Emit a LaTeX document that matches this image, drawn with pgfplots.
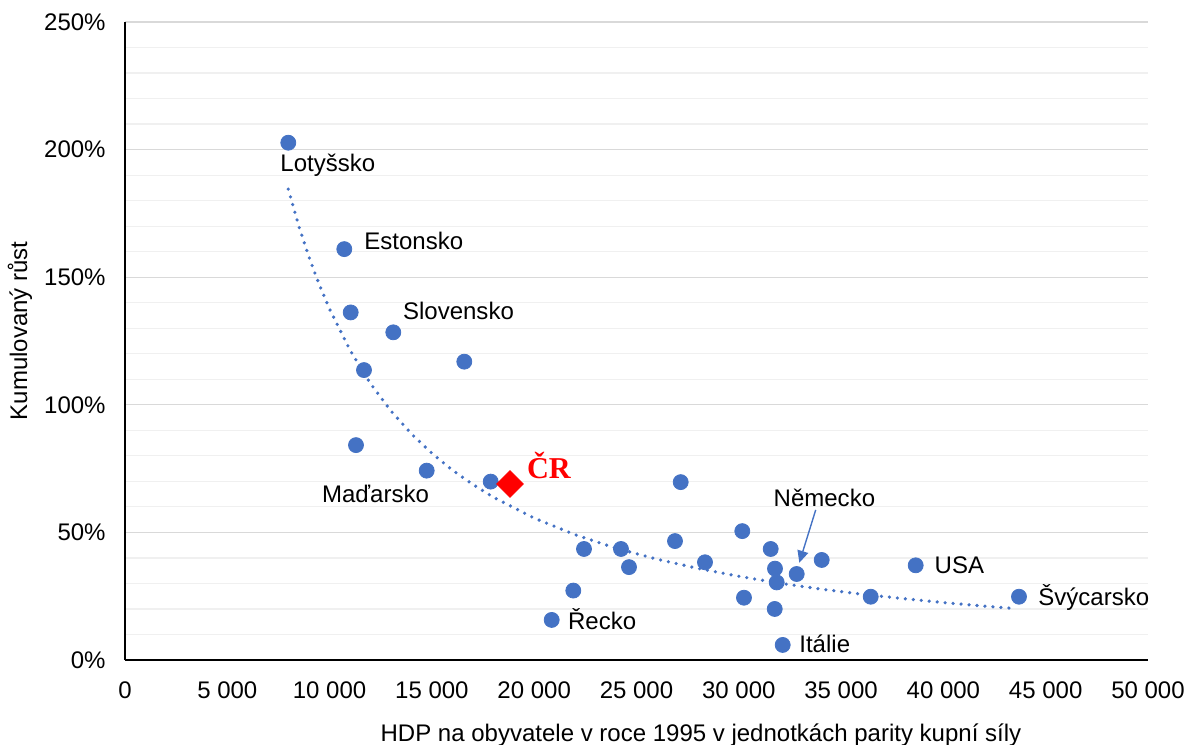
\documentclass[border=0pt]{standalone}
\usepackage{fontspec}
\setmainfont{Liberation Sans}
\newfontfamily\serifbf{Liberation Serif}
\usepackage{pgfplots}
\pgfplotsset{compat=1.18}
\usetikzlibrary{arrows.meta}
\definecolor{ptblue}{HTML}{4472C4}
\definecolor{majgrid}{HTML}{D9D9D9}
\definecolor{mingrid}{HTML}{F0F0F0}
\begin{document}
\fontsize{12.05}{14}\selectfont
\begin{tikzpicture}[font=\fontsize{12.05}{14}\selectfont]
\begin{axis}[
 at={(0,0)}, anchor=south west,
 scale only axis, width=511.5bp, height=319bp,
 xmin=0, xmax=50000, ymin=0, ymax=250,
 axis x line*=bottom, axis y line*=left,
 axis line style={black, line width=0.8bp, -},
 xtick={0,5000,...,50000},
 ytick={0,50,...,250},
 minor ytick={10,20,30,40,60,70,80,90,110,120,130,140,160,170,180,190,210,220,230,240},
 ymajorgrids, yminorgrids,
 major grid style={majgrid, line width=0.6bp},
 minor grid style={mingrid, line width=0.6bp},
 major tick length=0pt, minor tick length=0pt,
 /pgf/number format/assume math mode=true,
 /pgf/number format/1000 sep={\ },
 scaled x ticks=false,
 yticklabel={\pgfmathprintnumber{\tick}\%},
 xticklabel style={yshift=-6.5bp},
 yticklabel style={xshift=-5.5bp},
 clip=false,
]
\addplot[only marks, mark=*, mark size=3.75bp, mark options={draw=ptblue, fill=ptblue}] coordinates {
(7981,202.7) (10718,161.0) (11031,136.2) (13113,128.4) (16584,116.9)
(11681,113.6) (11290,84.2) (14746,74.2) (17874,69.9) (27160,69.7)
(30171,50.5) (26882,46.6) (22434,43.5) (24242,43.5) (31559,43.5)
(24634,36.4) (28348,38.3) (31769,35.8) (31853,30.4) (32830,33.7)
(34052,39.2) (38646,37.1) (36447,24.8) (43695,24.8) (30254,24.4)
(31755,20.0) (32146,5.9) (21911,27.2) (20855,15.7)
};
\addplot[ptblue, line width=1.8bp, line cap=round, dash pattern=on 0bp off 4bp, mark=none] coordinates {
(7981,184.5) (8500,169.9) (9000,157.7) (9500,147.0) (10000,137.5) (11000,121.4)
(12000,108.3) (13000,97.6) (14000,88.6) (15000,81.0) (16000,74.4)
(17000,68.8) (18000,63.8) (20000,55.6) (22000,49.1) (24000,43.8)
(26000,39.5) (28000,35.9) (30000,32.8) (32000,30.1) (34000,27.8)
(36000,25.8) (38000,24.1) (40000,22.5) (42000,21.1) (43300,20.3)
};
\addplot[only marks, mark=square*, mark size=4.7bp, mark options={rotate=45, draw=red, fill=red}] coordinates {(18817,69.0)};
\node[anchor=base west, inner sep=0pt] at (axis cs:7576,191.6) {Lotyšsko};
\node[anchor=base west, inner sep=0pt] at (axis cs:11681,160.7) {Estonsko};
\node[anchor=base west, inner sep=0pt] at (axis cs:13573,133.6) {Slovensko};
\node[anchor=base west, inner sep=0pt] at (axis cs:9614,61.9) {Maďarsko};
\node[anchor=base west, inner sep=0pt, text=red, font=\serifbf\bfseries\fontsize{15.2}{18}\selectfont] at (axis cs:19633,71.3) {ČR};
\node[anchor=base west, inner sep=0pt] at (axis cs:21637,11.8) {Řecko};
\node[anchor=base west, inner sep=0pt] at (axis cs:31687,60.3) {Německo};
\node[anchor=base west, inner sep=0pt] at (axis cs:39555,33.7) {USA};
\node[anchor=base west, inner sep=0pt] at (axis cs:32942,3.1) {Itálie};
\node[anchor=base west, inner sep=0pt] at (axis cs:44624,21.2) {Švýcarsko};
\draw[ptblue, line width=0.7bp, -{Triangle[length=6bp, width=5.5bp]}] (axis cs:33759,58.8) -- (axis cs:32958,38.1);
\node[rotate=90, anchor=center] at (rel axis cs:-0.1026,0.516) {Kumulovaný růst};
\node[anchor=center] at (rel axis cs:0.563,-0.1176) {HDP na obyvatele v roce 1995 v jednotkách parity kupní síly};
\end{axis}
\pgfresetboundingbox
\useasboundingbox (-62.5bp,-42.5bp) rectangle (531bp,330bp);
\end{tikzpicture}
\end{document}
